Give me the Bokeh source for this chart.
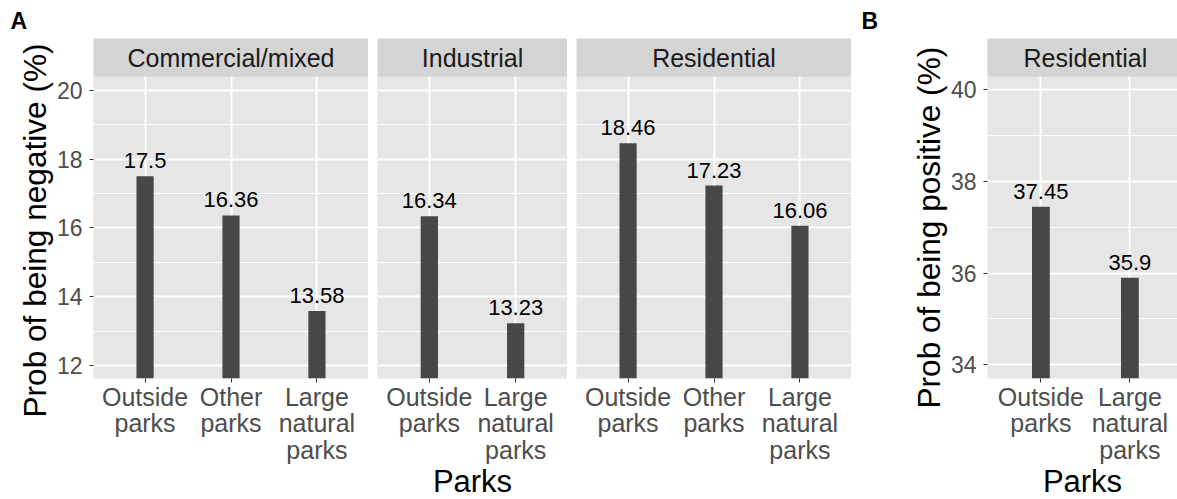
from bokeh.plotting import figure
from bokeh.layouts import row
from bokeh.models import Range1d, FixedTicker, Title, LabelSet, ColumnDataSource
from bokeh.core.properties import value
from bokeh.embed import file_html
from bokeh.resources import INLINE

# ---- data -----------------------------------------------------------------
land_use_negative = ["Commercial/mixed", "Industrial", "Residential"]

parks_commercial = ["Outside parks", "Other parks", "Large natural parks"]
neg_commercial = [17.5, 16.36, 13.58]

parks_industrial = ["Outside parks", "Large natural parks"]
neg_industrial = [16.34, 13.23]

parks_residential = ["Outside parks", "Other parks", "Large natural parks"]
neg_residential = [18.46, 17.23, 16.06]

land_use_positive = ["Residential"]
parks_positive = ["Outside parks", "Large natural parks"]
pos_residential = [37.45, 35.9]

park_tick_labels = {
    "Outside parks": "Outside\nparks",
    "Other parks": "Other\nparks",
    "Large natural parks": "Large\nnatural\nparks",
}

neg_ticks = [12, 14, 16, 18, 20]
neg_minor = [13, 15, 17, 19]
pos_ticks = [34, 36, 38, 40]
pos_minor = [35, 37, 39]

# ---- style ----------------------------------------------------------------
FONT = "Liberation Sans"
PANEL_BG = "#E6E6E6"
STRIP_BG = "#D4D4D4"
BAR = "#474747"
STRIP_PX = 38      # strip height in pixels
PANEL_PX = 302     # panel height in pixels
TOP_PX = 38
BOTTOM_PX = 121


def facet(strip_text, cats, vals, frame_w, border_left, y_lo, y_hi, ticks, minor,
          x_hi=None, y_title=None, y_title_offset=0, x_title=None, panel_label=None):
    n = len(cats)
    xs = list(range(1, n + 1))
    x_lo, x_end = 0.4, n + 0.6
    # the strip sits inside the frame, on top of the panel
    y_strip = y_hi + STRIP_PX * (y_hi - y_lo) / PANEL_PX

    p = figure(frame_width=frame_w, frame_height=STRIP_PX + PANEL_PX,
               x_range=Range1d(x_lo, x_hi if x_hi is not None else x_end),
               y_range=Range1d(y_lo, y_strip),
               min_border_left=border_left, min_border_right=0,
               min_border_top=TOP_PX, min_border_bottom=BOTTOM_PX,
               toolbar_location=None, output_backend="svg",
               background_fill_color=PANEL_BG, border_fill_color="white",
               outline_line_color=None)

    # bars and value labels
    src = ColumnDataSource(data=dict(x=xs, v=vals, label=[str(v) for v in vals]))
    p.vbar(x="x", top="v", bottom=0, width=0.2, source=src,
           fill_color=BAR, line_color=None)
    p.add_layout(LabelSet(x="x", y="v", text="label", source=src,
                          text_align="center", text_baseline="alphabetic",
                          y_offset=8, text_font=value(FONT),
                          text_font_size=value("22px"), text_color="black"))

    # facet strip
    p.quad(left=[x_lo], right=[x_end], bottom=[y_hi], top=[y_strip],
           fill_color=STRIP_BG, line_color=None)
    p.text(x=[(x_lo + x_end) / 2], y=[(y_hi + y_strip) / 2], text=[strip_text],
           text_align="center", text_baseline="middle",
           text_font=value(FONT), text_font_size="25px", text_color="#1A1A1A")

    # grid
    p.xgrid.grid_line_color = "white"
    p.xgrid.grid_line_width = 2
    p.ygrid.grid_line_color = "white"
    p.ygrid.grid_line_width = 2
    p.ygrid.minor_grid_line_color = "white"
    p.ygrid.minor_grid_line_width = 1

    # x axis
    xa = p.xaxis[0]
    xa.ticker = FixedTicker(ticks=xs)
    xa.major_label_overrides = {i + 1: park_tick_labels[c] for i, c in enumerate(cats)}
    xa.axis_line_color = None
    xa.major_tick_in = 0
    xa.major_tick_out = 4
    xa.major_tick_line_color = "#333333"
    xa.minor_tick_line_color = None
    xa.major_label_standoff = 0
    xa.major_label_text_font = FONT
    xa.major_label_text_font_size = "25px"
    xa.major_label_text_line_height = 0.96
    xa.major_label_text_color = "#4D4D4D"
    if x_title:
        xa.axis_label = x_title
        xa.axis_label_text_font = FONT
        xa.axis_label_text_font_size = "31px"
        xa.axis_label_text_font_style = "normal"
        xa.axis_label_text_line_height = 1.0
        xa.axis_label_text_color = "black"
        xa.axis_label_standoff = -3

    # y axis
    ya = p.yaxis[0]
    ya.ticker = FixedTicker(ticks=ticks, minor_ticks=minor)
    if y_title:
        ya.axis_line_color = None
        ya.major_tick_in = 0
        ya.major_tick_out = 4
        ya.major_tick_line_color = "#333333"
        ya.minor_tick_line_color = None
        ya.major_label_standoff = 7
        ya.major_label_text_font = FONT
        ya.major_label_text_font_size = "23px"
        ya.major_label_text_color = "#4D4D4D"
        # axis title, starting below the frame bottom so it centres on the panel
        p.add_layout(Title(text=y_title, align="left", offset=y_title_offset,
                           standoff=2, text_font=FONT, text_font_size="31.6px",
                           text_font_style="normal", text_color="black"), "left")
    else:
        ya.visible = False

    if panel_label:
        p.title.text = panel_label
        p.title.text_font = FONT
        p.title.text_font_size = "23px"
        p.title.text_font_style = "bold"
        p.title.text_color = "black"
        p.title.align = "left"
        p.title.offset = -(border_left - 10)
        p.title.standoff = 10
    return p


# ---- panel A: probability of negative sentiment ---------------------------
p1 = facet(land_use_negative[0], parks_commercial, neg_commercial, 275, 93,
           11.622, 20.398, neg_ticks, neg_minor,
           y_title="Prob of being negative (%)", y_title_offset=-39, panel_label="A")
p2 = facet(land_use_negative[1], parks_industrial, neg_industrial, 190, 9,
           11.622, 20.398, neg_ticks, neg_minor, x_title="Parks")
p3 = facet(land_use_negative[2], parks_residential, neg_residential, 275, 9,
           11.622, 20.398, neg_ticks, neg_minor)

# ---- panel B: probability of positive sentiment ---------------------------
p4 = facet(land_use_positive[0], parks_positive, pos_residential, 190, 136,
           33.70, 40.29, pos_ticks, pos_minor, x_hi=2.535,
           y_title="Prob of being positive (%)", y_title_offset=-30,
           x_title="Parks", panel_label="B")

layout = row(p1, p2, p3, p4)

open("out.html", "w").write(file_html(layout, INLINE))
